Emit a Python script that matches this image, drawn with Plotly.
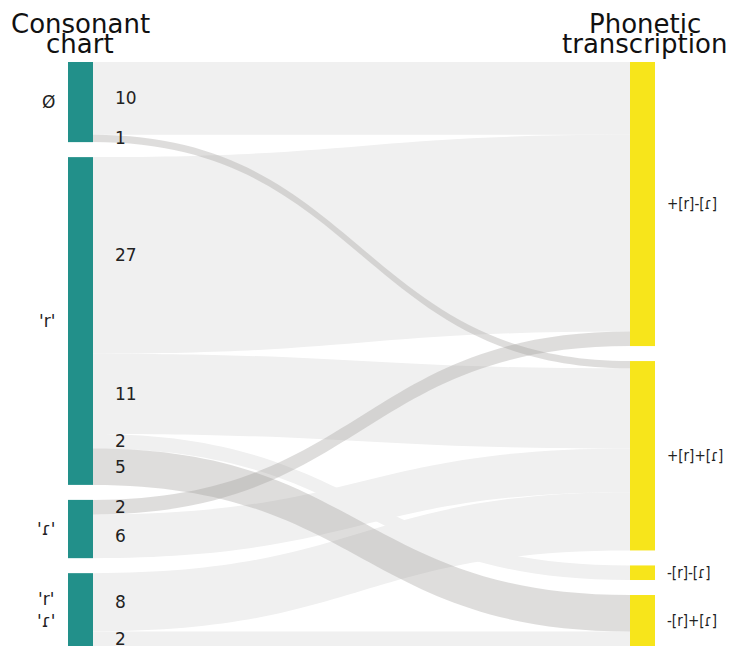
import plotly.graph_objects as go

W, H = 729, 646

# nodes
source_labels = ["Ø", "'r'", "'ɾ'", "'r'<br>'ɾ'"]
target_labels = ["+[r]-[ɾ]", "+[r]+[ɾ]", "-[r]-[ɾ]", "-[r]+[ɾ]"]

# links (source index, target index, value, highlighted)
link_source = [0, 1, 1, 1, 2, 3, 3, 0, 1, 2]
link_target = [0, 0, 1, 2, 1, 1, 3, 1, 3, 0]
link_value = [10, 27, 11, 2, 6, 8, 2, 1, 5, 2]
link_highlight = [False, False, False, False, False, False, False, True, True, True]

teal = "#22908a"
yellow = "#f7e51b"
light = "#f0f0f0"
dark = "rgba(160,158,155,0.35)"

# geometry of the sankey area (pixels)
x0, x1 = 68, 655
y0, y1 = 62, 646
pad = 15
thick = 25

n_src = len(source_labels)
n_tgt = len(target_labels)
labels = source_labels + target_labels
node_colors = [teal] * n_src + [yellow] * n_tgt

total = sum(link_value)
k = (y1 - y0 - pad * (n_src - 1)) / total


def node_tops(sizes):
    tops, y = [], y0
    for s in sizes:
        tops.append(y)
        y += s * k + pad
    return tops


src_sizes = [sum(v for s, v in zip(link_source, link_value) if s == i) for i in range(n_src)]
tgt_sizes = [sum(v for t, v in zip(link_target, link_value) if t == i) for i in range(n_tgt)]
src_tops = node_tops(src_sizes)
tgt_tops = node_tops(tgt_sizes)

# fixed node positions (centres, as fractions of the sankey domain), keeps input order
dw = x1 - x0
dh = y1 - y0
node_x = [thick / 2 / dw] * n_src + [1 - thick / 2 / dw] * n_tgt
node_y = ([(t - y0 + s * k / 2) / dh for t, s in zip(src_tops, src_sizes)] +
          [(t - y0 + s * k / 2) / dh for t, s in zip(tgt_tops, tgt_sizes)])

fig = go.Figure(go.Sankey(
    arrangement="fixed",
    domain=dict(x=[x0 / W, x1 / W], y=[0, 1 - y0 / H]),
    node=dict(
        label=[""] * len(labels),
        x=node_x,
        y=node_y,
        color=node_colors,
        pad=pad,
        thickness=thick,
        line=dict(width=0),
        hoverinfo="none",
    ),
    link=dict(
        source=link_source,
        target=[t + n_src for t in link_target],
        value=link_value,
        color=[dark if h else light for h in link_highlight],
        hoverinfo="none",
    ),
))


def py(p):
    return 1 - p / H


ann = []
font = "DejaVu Sans"
for i, lab in enumerate(source_labels):
    ann.append(dict(x=57 / W, y=py(src_tops[i] + src_sizes[i] * k / 2), text=lab,
                    xanchor="right", yanchor="middle", showarrow=False,
                    font=dict(size=17, family=font, color="#222")))
for i, lab in enumerate(target_labels):
    ann.append(dict(x=665 / W, y=py(tgt_tops[i] + tgt_sizes[i] * k / 2), text=lab,
                    xanchor="left", yanchor="middle", showarrow=False,
                    font=dict(size=15, family="DejaVu Sans Condensed", color="#222")))

# value labels next to the source nodes, links ordered by target
for i in range(n_src):
    links = sorted([j for j, s in enumerate(link_source) if s == i], key=lambda j: link_target[j])
    y = src_tops[i]
    for j in links:
        h = link_value[j] * k
        ann.append(dict(x=113 / W, y=py(y + h / 2), text=str(link_value[j]),
                        xanchor="left", yanchor="middle", showarrow=False,
                        font=dict(size=17, family=font, color="#222")))
        y += h

for txt, cx, cy in [("Consonant", 80, 24), ("chart", 80, 44),
                    ("Phonetic", 645, 24), ("transcription", 644, 44)]:
    ann.append(dict(x=cx / W, y=py(cy), text=txt, xanchor="center", yanchor="middle",
                    showarrow=False, font=dict(size=26, family=font, color="#111")))

fig.update_layout(
    width=W, height=H,
    margin=dict(l=0, r=0, t=0, b=0),
    paper_bgcolor="white",
    annotations=ann,
)

fig.write_html("out.html", config={"displayModeBar": False},
               post_script="document.body.style.margin='0';document.body.style.overflow='hidden';")
